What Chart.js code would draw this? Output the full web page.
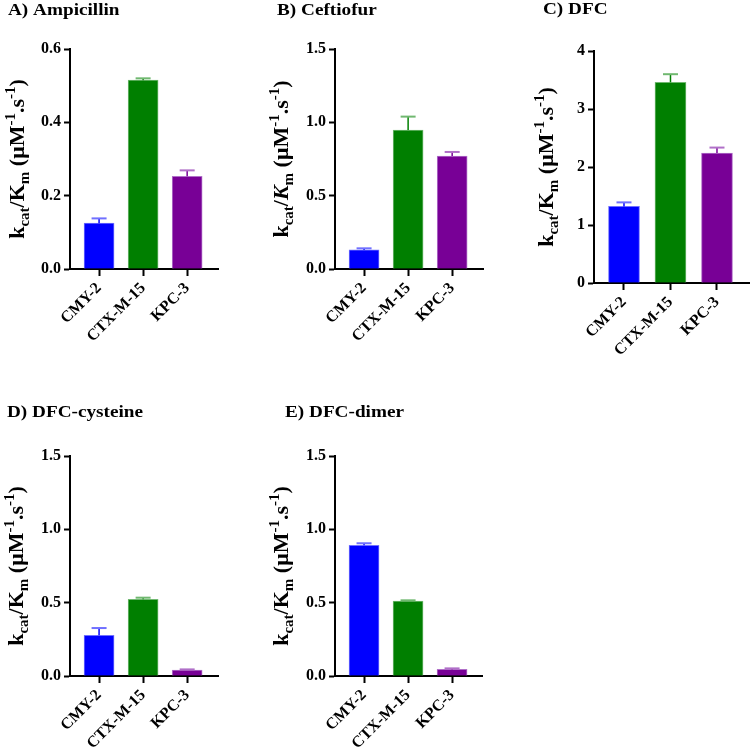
<!DOCTYPE html>
<html><head><meta charset="utf-8">
<script src="https://cdn.jsdelivr.net/npm/chart.js@4"></script>
<style>
html,body{margin:0;padding:0;background:#fff;width:750px;height:753px;overflow:hidden}
.p{position:absolute}
</style></head><body>
<div class="p" style="left:0;top:0;width:250px;height:390px"><canvas id="ca" width="250" height="390"></canvas></div>
<div class="p" style="left:250px;top:0;width:250px;height:390px"><canvas id="cb" width="250" height="390"></canvas></div>
<div class="p" style="left:500px;top:0;width:250px;height:390px"><canvas id="cc" width="250" height="390"></canvas></div>
<div class="p" style="left:0;top:390px;width:250px;height:363px"><canvas id="cd" width="250" height="363"></canvas></div>
<div class="p" style="left:250px;top:390px;width:250px;height:363px"><canvas id="ce" width="250" height="363"></canvas></div>
<script>
const categories = ['CMY-2', 'CTX-M-15', 'KPC-3'];

const ampicillin    = [0.125, 0.515, 0.253];
const ampicillinSem = [0.013, 0.005, 0.016];
const ceftiofur     = [0.130, 0.948, 0.770];
const ceftiofurSem  = [0.011, 0.091, 0.028];
const dfc           = [1.32, 3.46, 2.24];
const dfcSem        = [0.07, 0.14, 0.095];
const dfcCysteine    = [0.277, 0.523, 0.041];
const dfcCysteineSem = [0.050, 0.011, 0.004];
const dfcDimer      = [0.891, 0.511, 0.045];
const dfcDimerSem   = [0.014, 0.005, 0.007];

const ticksSmall = [0, 0.2, 0.4, 0.6];
const ticksMid   = [0, 0.5, 1.0, 1.5];
const ticksDfc   = [0, 1, 2, 3, 4];

const titles = ['A) Ampicillin', 'B) Ceftiofur', 'C) DFC', 'D) DFC-cysteine', 'E) DFC-dimer'];

const barColors = ['#0000ff', '#007f00', '#780096'];
const edgeColors = ['#7070ff', '#70b870', '#b070c8'];
const FAMILY = '"Liberation Serif", "Times New Roman", serif';

const panelText = {
  id: 'panelText',
  afterDraw(chart, args, opts) {
    const ctx = chart.ctx;
    const ca = chart.chartArea;
    ctx.save();
    ctx.fillStyle = '#000';
    ctx.textAlign = 'left';
    ctx.textBaseline = 'alphabetic';
    ctx.font = 'bold 17px ' + FAMILY;
    ctx.translate(opts.titleX, opts.titleY);
    ctx.scale(1.13, 1);
    ctx.fillText(opts.title, 0, 0);
    ctx.restore();

    ctx.save();
    ctx.fillStyle = '#000';
    ctx.textAlign = 'left';
    ctx.textBaseline = 'alphabetic';
    const main = 22, small = 15;
    const runs = [
      ['k', 'n'], ['cat', 'sub'], ['/', 'n'], ['K', opts.italicK ? 'i' : 'n'], ['m', 'sub'],
      [' (\u03BCM', 'n'], ['-1', 'sup'], ['.s', 'n'], ['-1', 'sup'], [')', 'n']
    ];
    const fontFor = t => (t === 'sub' || t === 'sup') ? 'bold ' + small + 'px ' + FAMILY
      : (t === 'i' ? 'italic bold ' + main + 'px ' + FAMILY : 'bold ' + main + 'px ' + FAMILY);
    let total = 0;
    runs.forEach(r => { ctx.font = fontFor(r[1]); total += ctx.measureText(r[0]).width; });
    ctx.translate(opts.yTitleX, (ca.top + ca.bottom) / 2);
    ctx.rotate(-Math.PI / 2);
    let x = -total / 2;
    const base = 7;
    runs.forEach(r => {
      ctx.font = fontFor(r[1]);
      let dy = 0;
      if (r[1] === 'sub') dy = 5;
      if (r[1] === 'sup') dy = -9;
      ctx.fillText(r[0], x, base + dy);
      x += ctx.measureText(r[0]).width;
    });
    ctx.restore();
  }
};

const errorBars = {
  id: 'errorBars',
  afterDatasetsDraw(chart) {
    const ctx = chart.ctx;
    const ys = chart.scales.y;
    const ds = chart.data.datasets[0];
    const meta = chart.getDatasetMeta(0);
    ctx.save();
    meta.data.forEach((bar, i) => {
      const v = ds.data[i].y;
      const top = ys.getPixelForValue(v);
      const end = ys.getPixelForValue(v + ds.sem[i]);
      ctx.strokeStyle = barColors[i];
      ctx.lineWidth = 1.5;
      ctx.beginPath();
      ctx.moveTo(bar.x, top);
      ctx.lineTo(bar.x, end);
      ctx.stroke();
      ctx.strokeStyle = edgeColors[i];
      ctx.lineWidth = 2;
      ctx.beginPath();
      ctx.moveTo(bar.x - 7.5, end);
      ctx.lineTo(bar.x + 7.5, end);
      ctx.stroke();
    });
    ctx.restore();
  }
};

function makePanel(id, title, values, sem, yTicks, fmt, g) {
  const font = { family: FAMILY, size: 16, weight: 'bold' };
  return new Chart(document.getElementById(id), {
    type: 'bar',
    data: {
      datasets: [{
        data: values.map((v, i) => ({ x: i, y: v })),
        sem: sem,
        backgroundColor: barColors,
        borderColor: edgeColors,
        borderWidth: 1,
        barThickness: g.barW
      }]
    },
    options: {
      responsive: false,
      animation: false,
      layout: { padding: { left: 0, top: g.top, right: g.w - g.right, bottom: 0 } },
      plugins: {
        legend: { display: false },
        tooltip: { enabled: false },
        panelText: { title: title, titleX: g.titleX, titleY: g.titleY, yTitleX: g.yTitleX, italicK: g.italicK }
      },
      scales: {
        x: {
          type: 'linear',
          offset: false,
          min: g.xMin, max: g.xMax,
          afterBuildTicks: s => { s.ticks = categories.map((c, i) => ({ value: i })); },
          afterFit: s => { s.height = g.h - g.bottom; s.paddingLeft = 0; s.paddingRight = 0; },
          ticks: { callback: v => categories[v], autoSkip: false, minRotation: 45, maxRotation: 45, font: font, color: '#000', padding: 3 },
          grid: { offset: false, drawOnChartArea: false, tickLength: 7, tickWidth: 2, tickColor: '#000' },
          border: { color: '#000', width: 2 }
        },
        y: {
          min: 0, max: yTicks[yTicks.length - 1],
          afterBuildTicks: s => { s.ticks = yTicks.map(v => ({ value: v })); },
          afterFit: s => { s.width = g.left; s.paddingTop = 0; s.paddingBottom = 0; },
          ticks: { callback: v => fmt(v), font: font, color: '#000', padding: 3 },
          grid: { drawOnChartArea: false, tickLength: 6, tickWidth: 2, tickColor: '#000' },
          border: { color: '#000', width: 2 }
        }
      }
    },
    plugins: [errorBars, panelText]
  });
}

const f1 = v => v.toFixed(1);
const f0 = v => String(v);

function build() {
  makePanel('ca', titles[0], ampicillin, ampicillinSem, ticksSmall, f1,
    { w: 250, h: 390, left: 70, right: 218, top: 49, bottom: 269, titleX: 8, titleY: 15, yTitleX: 17, barW: 30, xMin: -0.66, xMax: 2.70 });
  makePanel('cb', titles[1], ceftiofur, ceftiofurSem, ticksMid, f1,
    { w: 250, h: 390, left: 85, right: 233, top: 49, bottom: 269, titleX: 27, titleY: 15, yTitleX: 31, barW: 30, xMin: -0.66, xMax: 2.70, italicK: true });
  makePanel('cc', titles[2], dfc, dfcSem, ticksDfc, f0,
    { w: 250, h: 390, left: 94, right: 250, top: 51, bottom: 283, titleX: 43, titleY: 14, yTitleX: 46, barW: 31, xMin: -0.645, xMax: 2.71 });
  makePanel('cd', titles[3], dfcCysteine, dfcCysteineSem, ticksMid, f1,
    { w: 250, h: 363, left: 70, right: 218, top: 66, bottom: 286, titleX: 7, titleY: 27, yTitleX: 16, barW: 30, xMin: -0.66, xMax: 2.70 });
  makePanel('ce', titles[4], dfcDimer, dfcDimerSem, ticksMid, f1,
    { w: 250, h: 363, left: 85, right: 232, top: 66, bottom: 286, titleX: 35, titleY: 27, yTitleX: 31, barW: 30, xMin: -0.66, xMax: 2.68 });
}

if (document.fonts && document.fonts.load) {
  Promise.all([
    document.fonts.load('bold 16px "Liberation Serif"'),
    document.fonts.load('italic bold 16px "Liberation Serif"')
  ]).then(build, build);
} else {
  build();
}
</script>
</body></html>
